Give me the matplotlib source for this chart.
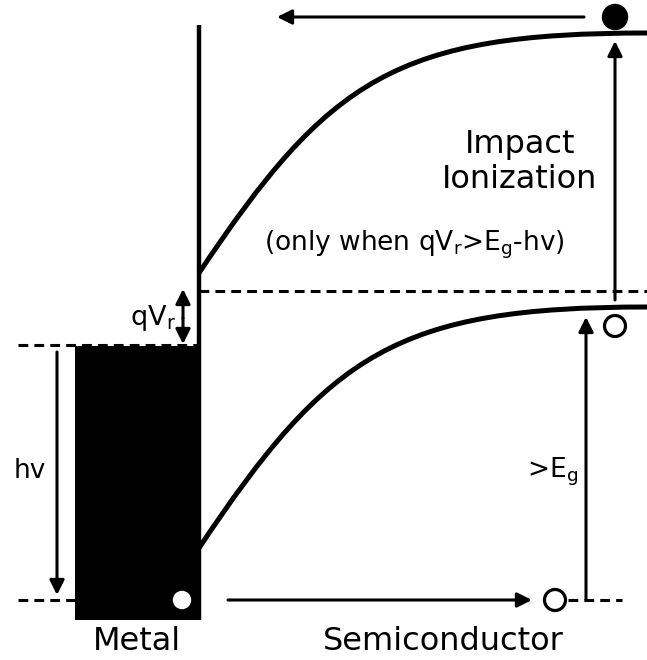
"""Schottky band diagram: internal photoemission with impact ionization."""

import matplotlib

matplotlib.use("Agg")
import matplotlib.pyplot as plt
from matplotlib.patches import Circle, PathPatch, Rectangle
from matplotlib.path import Path

plt.rcParams["font.family"] = ["DejaVu Sans"]
plt.rcParams["mathtext.fontset"] = "dejavusans"

# energy levels (pixel rows, top = 0)
metal_fermi = 345
metal_bottom = 620
semi_fermi = 291
cb_edge = 33
vb_edge = 307
vb_bottom = 600
interface_top = 25
hot_level = 17

# band bending curves as cubic Bezier control points (x, y)
cb_curve = [(199, 273), (329, 78), (397, 33), (647, 33)]
vb_curve = [(199, 548), (329, 353), (397, 307), (647, 307)]

labels = {
    "metal": "Metal",
    "semi": "Semiconductor",
    "hv": "hv",
    "qv": r"qV$_\mathregular{r}$",
    "eg": r">E$_\mathregular{g}$",
    "impact": "Impact\nIonization",
    "cond": r"(only when qV$_\mathregular{r}$>E$_\mathregular{g}$-hv)",
}

fig = plt.figure(figsize=(6.47, 6.60), dpi=100)
ax = fig.add_axes([0, 0, 1, 1])
ax.set_xlim(0, 647)
ax.set_ylim(660, 0)
ax.axis("off")

lw_band = 3.6
lw_arrow = 2.2
dash = (0, (3.2, 2.0))

# metal block and interface
ax.add_patch(Rectangle((75, metal_fermi + 1), 124, metal_bottom - metal_fermi - 1, color="black", lw=0))
ax.plot([199, 199], [interface_top, metal_bottom], color="black", lw=3.2, solid_capstyle="butt")

# dashed levels
ax.plot([18, 199], [metal_fermi, metal_fermi], color="black", lw=2.2, linestyle=dash)
ax.plot([199, 647], [semi_fermi, semi_fermi], color="black", lw=2.2, linestyle=dash)
ax.plot([18, 75], [vb_bottom, vb_bottom], color="black", lw=2.2, linestyle=dash)
ax.plot([568, 622], [vb_bottom, vb_bottom], color="black", lw=2.2, linestyle=dash)

# bent bands
codes = [Path.MOVETO, Path.CURVE4, Path.CURVE4, Path.CURVE4]
for pts in (cb_curve, vb_curve):
    ax.add_patch(PathPatch(Path(pts, codes), fill=False, lw=lw_band, color="black", capstyle="butt"))


def arrow(x0, y0, x1, y1, style="-|>"):
    ax.annotate("", xy=(x1, y1), xytext=(x0, y0),
                arrowprops=dict(arrowstyle=style, color="black", lw=lw_arrow,
                                mutation_scale=22, shrinkA=0, shrinkB=0))


arrow(57, 352, 57, 595)                      # hv
arrow(183, 318, 183, 289, "-|>")             # qVr up
arrow(183, 318, 183, 344, "-|>")             # qVr down
arrow(228, vb_bottom, 532, vb_bottom)         # hole transport
arrow(586, vb_bottom, 586, 317)               # >Eg
arrow(615, 300, 615, 41)                      # impact ionization
arrow(584, hot_level, 277, hot_level)         # hot electron back to metal

# carriers
ax.add_patch(Circle((615, hot_level), 12.5, color="black"))
ax.add_patch(Circle((615, 326), 10.5, facecolor="white", edgecolor="black", lw=2.3))
ax.add_patch(Circle((555, vb_bottom), 10.5, facecolor="white", edgecolor="black", lw=2.3))
ax.add_patch(Circle((182, vb_bottom), 8.5, color="white"))

# text
ax.text(137, 642, labels["metal"], ha="center", va="center", fontsize=23)
ax.text(443, 642, labels["semi"], ha="center", va="center", fontsize=23)
ax.text(30, 471, labels["hv"], ha="center", va="center", fontsize=19)
ax.text(176, 318, labels["qv"], ha="right", va="center", fontsize=19.5)
ax.text(578, 472, labels["eg"], ha="right", va="center", fontsize=19)
ax.text(520, 162, labels["impact"], ha="center", va="center", fontsize=23, linespacing=1.2)
ax.text(414, 245, labels["cond"], ha="center", va="center", fontsize=19)

fig.savefig("out.png", dpi=100)
